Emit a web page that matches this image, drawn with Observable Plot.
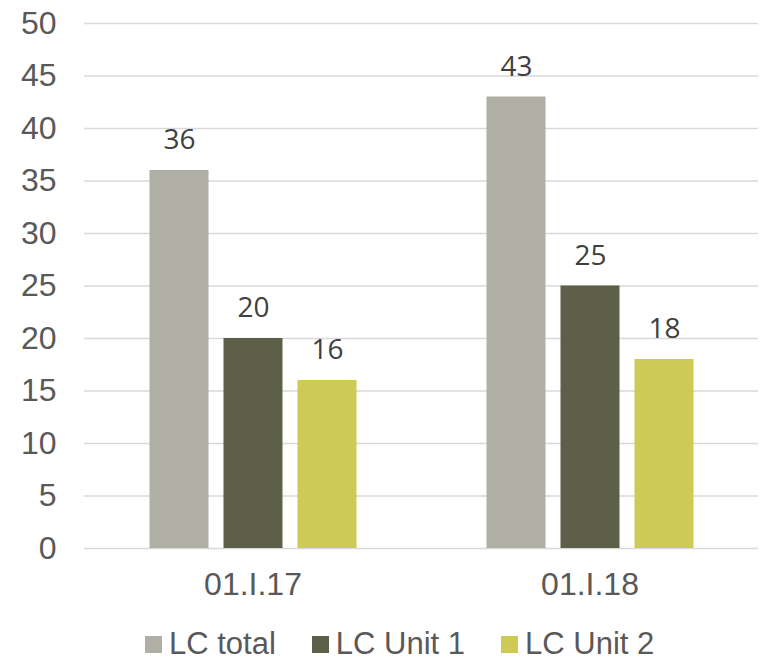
<!DOCTYPE html>
<html><head><meta charset="utf-8">
<script src="https://cdn.jsdelivr.net/npm/d3@7"></script>
<script src="https://cdn.jsdelivr.net/npm/@observablehq/plot@0.6"></script>
<style>
body{margin:0;background:#fff;width:760px;height:660px;overflow:hidden;position:relative;}
#legend{position:absolute;left:0;top:629px;width:760px;height:30px;line-height:30px;display:flex;justify-content:flex-start;align-items:center;box-sizing:border-box;padding-left:145px;font-family:"Liberation Sans",Arial,sans-serif;font-size:31px;color:#595959;}
#legend .item{display:flex;align-items:center;margin-right:36px;}
#legend .sw{width:17px;height:17px;margin-right:7px;}
</style>
</head><body><div id="chart"></div><div id="legend"></div>
<script>
const dates = ["01.I.17", "01.I.18"];
const seriesNames = ["LC total", "LC Unit 1", "LC Unit 2"];
const lcTotal = [36, 43];
const lcUnit1 = [20, 25];
const lcUnit2 = [16, 18];
const colors = ["#afafa5", "#5d5f48", "#cdcb55"];
const yTicks = [0, 5, 10, 15, 20, 25, 30, 35, 40, 45, 50];

const seriesValues = [lcTotal, lcUnit1, lcUnit2];
const data = dates.flatMap((d, i) => seriesValues.map((arr, j) => ({date: d, series: seriesNames[j], value: arr[i]})));

const chart = Plot.plot({
  width: 760, height: 610,
  marginTop: 23, marginBottom: 62, marginLeft: 83.5, marginRight: 2.5,
  style: {fontFamily: "'Liberation Sans', Arial, sans-serif", fontSize: "32px", color: "#595959", background: "#fff"},
  fx: {domain: dates, padding: 0, label: null},
  x: {domain: seriesNames, paddingInner: 0.205, paddingOuter: 0.86, axis: null},
  y: {domain: [0, 50], label: null},
  color: {domain: seriesNames, range: colors},
  marks: [
    Plot.ruleY(yTicks, {stroke: "#d9d9d9", strokeWidth: 1.5}),
    Plot.barY(data, {fx: "date", x: "series", y: "value", fill: "series"}),
    Plot.text(data, {fx: "date", x: "series", y: "value", text: d => String(d.value), dy: -30, lineAnchor: "middle", fill: "#404040", fontSize: 28, fontFamily: "'Open Sans', sans-serif"}),
    Plot.axisY({ticks: yTicks, tickSize: 0, tickPadding: 28, anchor: "left", label: null}),
    Plot.axisFx({anchor: "bottom", tickSize: 0, tickPadding: 24, label: null})
  ]
});
document.getElementById("chart").appendChild(chart);

const legend = document.getElementById("legend");
seriesNames.forEach((name, i) => {
  const item = document.createElement("div");
  item.className = "item";
  const sw = document.createElement("span");
  sw.className = "sw";
  sw.style.background = colors[i];
  const lab = document.createElement("span");
  lab.textContent = name;
  item.appendChild(sw); item.appendChild(lab);
  legend.appendChild(item);
});
</script>
</body></html>
